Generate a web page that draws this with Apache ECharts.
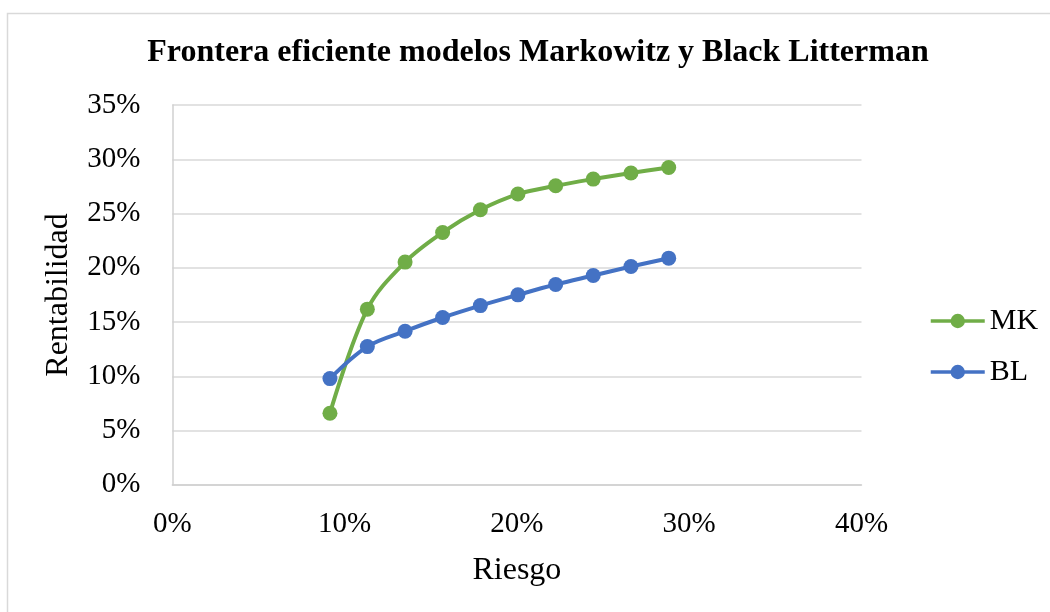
<!DOCTYPE html>
<html>
<head>
<meta charset="utf-8">
<script src="https://cdn.jsdelivr.net/npm/echarts@6/dist/echarts.min.js"></script>
<style>
html,body{margin:0;padding:0;background:#fff;}
#chart{width:1050px;height:612px;}
</style>
</head>
<body>
<div id="chart"></div>
<script>
const riesgo = [0.0915, 0.1132, 0.1351, 0.1569, 0.1788, 0.2006, 0.2225, 0.2443, 0.2662, 0.2881];
const mk = [0.0660, 0.1619, 0.2053, 0.2326, 0.2535, 0.2680, 0.2756, 0.2818, 0.2874, 0.2925];
const bl = [0.0979, 0.1274, 0.1416, 0.1542, 0.1652, 0.1751, 0.1846, 0.1929, 0.2012, 0.2089];
const xTicks = ['0%', '10%', '20%', '30%', '40%'];
const yTicks = ['0%', '5%', '10%', '15%', '20%', '25%', '30%', '35%'];

const FONT = "'Liberation Serif', 'Times New Roman', serif";
const pairs = ys => riesgo.map((x, i) => [x, ys[i]]);

const chart = echarts.init(document.getElementById('chart'));
chart.setOption({
  animation: false,
  backgroundColor: '#fff',
  graphic: [{
    type: 'rect', silent: true, z: -10,
    shape: { x: 7.5, y: 13.5, width: 1200, height: 800 },
    style: { fill: '#fff', stroke: '#D9D9D9', lineWidth: 1.5 }
  }],
  title: {
    text: 'Frontera eficiente modelos Markowitz y Black Litterman',
    left: 538, top: 37, textAlign: 'center', padding: 0,
    textStyle: { fontFamily: FONT, fontWeight: 'bold', fontSize: 32, color: '#000' }
  },
  legend: {
    orient: 'vertical', left: 929, top: 306, itemGap: 21, padding: 0,
    itemWidth: 54, itemHeight: 18,
    lineStyle: { width: 3.5 },
    textStyle: { fontFamily: FONT, fontSize: 30, color: '#000' },
    data: ['MK', 'BL']
  },
  grid: { left: 172.3, right: 188.5, top: 105.1, bottom: 127.2, containLabel: false },
  xAxis: {
    type: 'value', min: 0, max: 0.4, interval: 0.1,
    name: 'Riesgo', nameLocation: 'middle', nameGap: 70,
    nameTextStyle: { fontFamily: FONT, fontSize: 32, color: '#000' },
    axisLine: { show: true, lineStyle: { color: '#D0D0D0', width: 1.5 } },
    axisTick: { show: false },
    splitLine: { show: false },
    axisLabel: { fontFamily: FONT, fontSize: 29, color: '#000', margin: 25,
      formatter: v => xTicks[Math.round(v * 10)] }
  },
  yAxis: {
    type: 'value', min: 0, max: 0.35, interval: 0.05,
    name: 'Rentabilidad', nameLocation: 'middle', nameGap: 98, nameRotate: 90,
    nameTextStyle: { fontFamily: FONT, fontSize: 32, color: '#000' },
    axisLine: { show: true, lineStyle: { color: '#D0D0D0', width: 1.5 } },
    axisTick: { show: false },
    splitLine: { show: true, lineStyle: { color: '#D9D9D9', width: 1.5 } },
    axisLabel: { fontFamily: FONT, fontSize: 29, color: '#000', margin: 32,
      formatter: v => yTicks[Math.round(v * 20)] }
  },
  series: [
    {
      name: 'MK', type: 'line', data: pairs(mk), smooth: 0.35,
      symbol: 'circle', symbolSize: 15,
      lineStyle: { color: '#70AD47', width: 4 },
      itemStyle: { color: '#70AD47' }
    },
    {
      name: 'BL', type: 'line', data: pairs(bl), smooth: 0.35,
      symbol: 'circle', symbolSize: 15,
      lineStyle: { color: '#4472C4', width: 4 },
      itemStyle: { color: '#4472C4' }
    }
  ]
});
</script>
</body>
</html>
